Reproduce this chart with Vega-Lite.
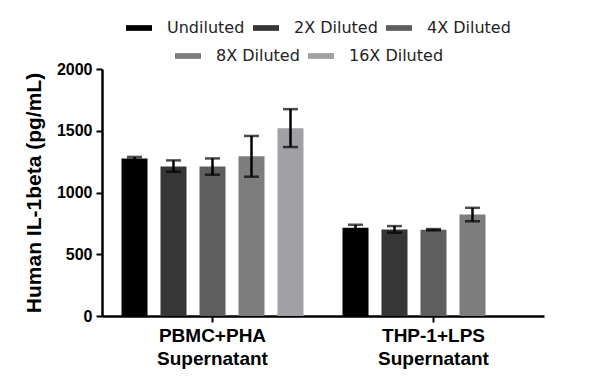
{
  "$schema": "https://vega.github.io/schema/vega-lite/v6.json",
  "width": 442,
  "height": 247,
  "autosize": "none",
  "padding": {"left": 102, "top": 69, "right": 56, "bottom": 68},
  "background": "white",
  "config": {
    "view": {"stroke": null},
    "font": "Liberation Sans",
    "legend": {
      "title": null,
      "orient": "none",
      "direction": "horizontal",
      "symbolType": "M-1,-0.22H1V0.22H-1Z",
      "symbolSize": 676,
      "symbolStrokeWidth": 0,
      "labelFont": "DejaVu Sans",
      "labelFontSize": 16,
      "labelColor": "#222222",
      "labelOffset": 15,
      "columnPadding": 8
    }
  },
  "data": {
    "values": [
      {"group": "PBMC+PHA Supernatant", "dilution": "Undiluted", "mean": 1276, "lo": 1264, "hi": 1288},
      {"group": "PBMC+PHA Supernatant", "dilution": "2X Diluted", "mean": 1211, "lo": 1168, "hi": 1260},
      {"group": "PBMC+PHA Supernatant", "dilution": "4X Diluted", "mean": 1211, "lo": 1144, "hi": 1276},
      {"group": "PBMC+PHA Supernatant", "dilution": "8X Diluted", "mean": 1293, "lo": 1128, "hi": 1458},
      {"group": "PBMC+PHA Supernatant", "dilution": "16X Diluted", "mean": 1520, "lo": 1368, "hi": 1675},
      {"group": "THP-1+LPS Supernatant", "dilution": "Undiluted", "mean": 715, "lo": 697, "hi": 738},
      {"group": "THP-1+LPS Supernatant", "dilution": "2X Diluted", "mean": 700, "lo": 675, "hi": 728},
      {"group": "THP-1+LPS Supernatant", "dilution": "4X Diluted", "mean": 699, "lo": 694, "hi": 704},
      {"group": "THP-1+LPS Supernatant", "dilution": "8X Diluted", "mean": 822, "lo": 767, "hi": 876}
    ]
  },
  "encoding": {
    "x": {
      "field": "group",
      "type": "nominal",
      "sort": null,
      "scale": {"domain": ["PBMC+PHA Supernatant", "THP-1+LPS Supernatant"], "paddingInner": 0, "paddingOuter": 0},
      "axis": {
        "title": null,
        "labelAngle": 0,
        "labelExpr": "split(datum.value, ' ')",
        "labelFont": "Liberation Sans",
        "labelFontWeight": "bold",
        "labelFontSize": 19,
        "labelLineHeight": 23,
        "labelColor": "#000000",
        "labelPadding": 4,
        "domainColor": "#000000",
        "domainWidth": 2.5,
        "tickColor": "#000000",
        "tickWidth": 2,
        "tickSize": 6
      }
    },
    "xOffset": {
      "field": "dilution",
      "type": "nominal",
      "scale": {
        "domain": ["Undiluted", "2X Diluted", "4X Diluted", "8X Diluted", "16X Diluted"],
        "paddingInner": 0.333,
        "paddingOuter": 0.5
      }
    },
    "y": {
      "field": "mean",
      "type": "quantitative",
      "scale": {"domain": [0, 2000]},
      "axis": {
        "title": "Human IL-1beta (pg/mL)",
        "titleFont": "Liberation Sans",
        "titleFontWeight": "bold",
        "titleFontSize": 21,
        "titleColor": "#000000",
        "titlePadding": 12,
        "values": [0, 500, 1000, 1500, 2000],
        "format": "d",
        "grid": false,
        "labelFont": "Liberation Sans",
        "labelFontWeight": "bold",
        "labelFontSize": 16,
        "labelColor": "#000000",
        "labelPadding": 4,
        "domainColor": "#000000",
        "domainWidth": 2.5,
        "tickColor": "#000000",
        "tickWidth": 2,
        "tickSize": 6
      }
    }
  },
  "layer": [
    {
      "transform": [{"filter": {"field": "dilution", "oneOf": ["Undiluted", "2X Diluted", "4X Diluted"]}}],
      "mark": {"type": "bar"},
      "encoding": {
        "color": {
          "field": "dilution",
          "type": "nominal",
          "sort": null,
          "scale": {
            "domain": ["Undiluted", "2X Diluted", "4X Diluted"],
            "range": ["#000000", "#363636", "#5e5e5e"]
          },
          "legend": {"legendX": 24, "legendY": -54}
        }
      }
    },
    {
      "transform": [{"filter": {"field": "dilution", "oneOf": ["8X Diluted", "16X Diluted"]}}],
      "mark": {"type": "bar"},
      "encoding": {
        "color": {
          "field": "dilution",
          "type": "nominal",
          "sort": null,
          "scale": {
            "domain": ["8X Diluted", "16X Diluted"],
            "range": ["#7d7d7d", "#a1a1a5"]
          },
          "legend": {
            "legendX": 73,
            "legendY": -26
          }
        }
      }
    },
    {
      "mark": {"type": "rule", "color": "#000000", "strokeWidth": 2.5},
      "encoding": {
        "y": {"field": "lo", "type": "quantitative"},
        "y2": {"field": "hi"}
      }
    },
    {
      "mark": {"type": "tick", "color": "#000000", "thickness": 2.5, "size": 15},
      "encoding": {
        "y": {"field": "lo", "type": "quantitative"}
      }
    },
    {
      "mark": {"type": "tick", "color": "#000000", "thickness": 2.5, "size": 15},
      "encoding": {
        "y": {"field": "hi", "type": "quantitative"}
      }
    }
  ],
  "resolve": {"scale": {"color": "independent"}, "legend": {"color": "independent"}}
}
